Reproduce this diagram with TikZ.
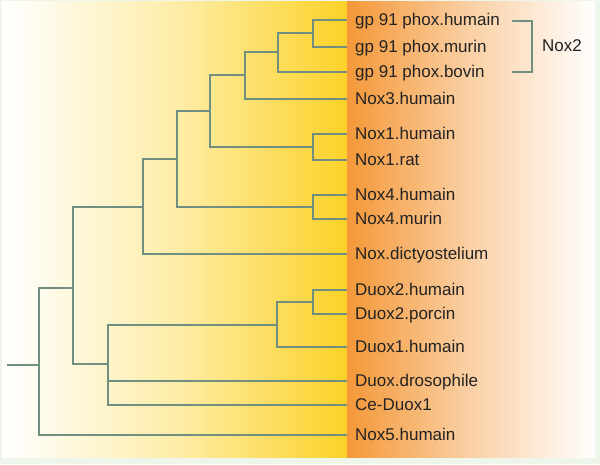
\documentclass[tikz,border=0pt]{standalone}
\usepackage{fontspec}
\setmainfont{Liberation Sans}
\definecolor{frame}{RGB}{238,245,234}
\definecolor{sun}{RGB}{252,210,40}
\definecolor{peach}{RGB}{244,152,56}
\definecolor{branchcol}{RGB}{112,143,128}
\definecolor{labelcol}{RGB}{35,35,35}
\begin{document}
\begin{tikzpicture}[x=1pt, y=-1pt,
    leaf/.style={anchor=west, inner xsep=8pt, inner ysep=0pt, text height=13pt, text depth=3pt,
                 font=\fontsize{17}{20}\selectfont, text=labelcol},
    branch/.style={draw=branchcol, line width=1.6pt},
    bracket/.style={draw=branchcol, line width=1.2pt}]
    \useasboundingbox (0,0) rectangle (600,464);
    % background panels
    \fill[frame] (0,0) rectangle (600,464);
    \shade[left color=white, right color=sun, middle color=sun!40] (2,1) rectangle (347,457);
    \shade[left color=peach, right color=white, middle color=peach!45] (347,1) rectangle (595,457);
    % leaves
    \node[leaf] (gph) at (347,20) {gp 91 phox.humain};
    \node[leaf] (gpm) at (347,47) {gp 91 phox.murin};
    \node[leaf] (gpb) at (347,72) {gp 91 phox.bovin};
    \node[leaf] (noxiii) at (347,99) {Nox3.humain};
    \node[leaf] (noxih) at (347,134) {Nox1.humain};
    \node[leaf] (noxir) at (347,160) {Nox1.rat};
    \node[leaf] (noxivh) at (347,195) {Nox4.humain};
    \node[leaf] (noxivm) at (347,219) {Nox4.murin};
    \node[leaf] (dicty) at (347,254) {Nox.dictyostelium};
    \node[leaf] (duoxiih) at (347,290) {Duox2.humain};
    \node[leaf] (duoxiip) at (347,314) {Duox2.porcin};
    \node[leaf] (duoxih) at (347,347) {Duox1.humain};
    \node[leaf] (droso) at (347,381) {Duox.drosophile};
    \node[leaf] (ceduox) at (347,405) {Ce-Duox1};
    \node[leaf] (noxv) at (347,435) {Nox5.humain};
    % inner nodes of the tree
    \coordinate (a) at (313,33);
    \coordinate (b) at (278,52);
    \coordinate (c) at (245,75);
    \coordinate (d) at (313,147);
    \coordinate (e) at (210,111);
    \coordinate (f) at (313,207);
    \coordinate (g) at (177,159);
    \coordinate (h) at (143,207);
    \coordinate (i) at (313,302);
    \coordinate (j) at (277,325);
    \coordinate (k) at (108,364);
    \coordinate (l) at (73,288);
    \coordinate (root) at (39,365);
    \coordinate (stub) at (7,365);
    % branches
    \draw[branch] (a) |- (gph.west);
    \draw[branch] (a) |- (gpm.west);
    \draw[branch] (b) |- (a);
    \draw[branch] (b) |- (gpb.west);
    \draw[branch] (c) |- (b);
    \draw[branch] (c) |- (noxiii.west);
    \draw[branch] (d) |- (noxih.west);
    \draw[branch] (d) |- (noxir.west);
    \draw[branch] (e) |- (c);
    \draw[branch] (e) |- (d);
    \draw[branch] (f) |- (noxivh.west);
    \draw[branch] (f) |- (noxivm.west);
    \draw[branch] (g) |- (e);
    \draw[branch] (g) |- (f);
    \draw[branch] (h) |- (g);
    \draw[branch] (h) |- (dicty.west);
    \draw[branch] (i) |- (duoxiih.west);
    \draw[branch] (i) |- (duoxiip.west);
    \draw[branch] (j) |- (i);
    \draw[branch] (j) |- (duoxih.west);
    \draw[branch] (k) |- (j);
    \draw[branch] (k) |- (droso.west);
    \draw[branch] (k) |- (ceduox.west);
    \draw[branch] (l) |- (h);
    \draw[branch] (l) |- (k);
    \draw[branch] (root) |- (l);
    \draw[branch] (root) |- (noxv.west);
    \draw[branch] (stub) -- (root);
    % Nox2 group
    \node[leaf, inner xsep=0pt] (noxii) at (542,46) {Nox2};
    \coordinate (brtop) at (512,21);
    \coordinate (brbot) at (512,72);
    \draw[bracket] (brtop) -- ++(20,0) |- (brbot);
\end{tikzpicture}
\end{document}
